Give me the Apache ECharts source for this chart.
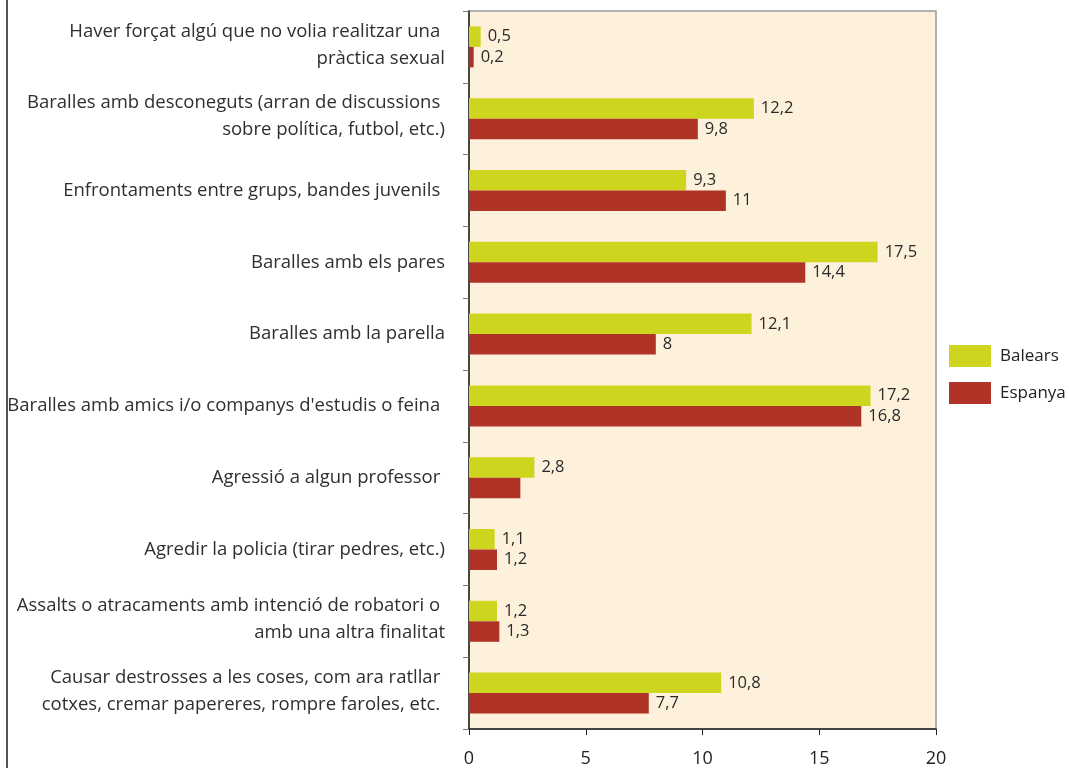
<!DOCTYPE html>
<html>
<head>
<meta charset="utf-8">
<script src="https://cdn.jsdelivr.net/npm/echarts@6/dist/echarts.min.js"></script>
<style>
  html, body { margin: 0; padding: 0; background: #fff; }
  #chart { width: 1069px; height: 768px; }
</style>
</head>
<body>
<div id="chart"></div>
<script>
// categories top to bottom
const categories = [
  'Haver forçat algú que no volia realitzar una \npràctica sexual',
  'Baralles amb desconeguts (arran de discussions \nsobre política, futbol, etc.)',
  'Enfrontaments entre grups, bandes juvenils ',
  'Baralles amb els pares',
  'Baralles amb la parella',
  "Baralles amb amics i/o companys d'estudis o feina ",
  'Agressió a algun professor ',
  'Agredir la policia (tirar pedres, etc.)',
  'Assalts o atracaments amb intenció de robatori o \namb una altra finalitat',
  'Causar destrosses a les coses, com ara ratllar \ncotxes, cremar papereres, rompre faroles, etc. '
]
const balears = [0.5, 12.2, 9.3, 17.5, 12.1, 17.2, 2.8, 1.1, 1.2, 10.8]
const espanya = [0.2, 9.8, 11, 14.4, 8, 16.8, 2.2, 1.2, 1.3, 7.7]
// the picture shows no label on this bar
const espanyaHiddenLabel = [6]
const xTicks = [0, 5, 10, 15, 20]

const FONT = 'Open Sans'
const fmt = (v) => String(v).replace('.', ',')

const chart = echarts.init(document.getElementById('chart'), null, { renderer: 'canvas' })

const labelStyle = {
  show: true,
  position: 'right',
  distance: 7,
  color: '#2a2a2a',
  fontFamily: FONT,
  fontSize: 16.5,
  formatter: (p) => fmt(p.value)
}

const catText = { fontFamily: FONT, fontSize: 18.5, color: '#2f2f2f', lineHeight: 31 }

chart.setOption({
  animation: false,
  textStyle: { fontFamily: FONT },
  grid: {
    left: 469, right: 133, top: 11, bottom: 36.5,
    show: true,
    backgroundColor: '#FDF1DC',
    borderColor: '#9a9a9a',
    borderWidth: 1.5
  },
  graphic: [
    // left frame
    { type: 'line', z: 10, shape: { x1: 7, y1: 0, x2: 7, y2: 768 }, style: { stroke: '#555', lineWidth: 2 } }
  ],
  legend: {
    orient: 'vertical',
    left: 944,
    top: 340,
    itemWidth: 42,
    itemHeight: 22,
    itemGap: 15,
    icon: 'rect',
    textStyle: { fontFamily: FONT, fontSize: 17, color: '#222', padding: [0, 0, 0, 4] },
    data: ['Balears', 'Espanya']
  },
  xAxis: {
    type: 'value',
    min: xTicks[0],
    max: xTicks[xTicks.length - 1],
    interval: 5,
    splitLine: { show: false },
    axisLine: { show: true, lineStyle: { color: '#222', width: 1.5 } },
    axisTick: { show: true, length: 6, lineStyle: { color: '#222' } },
    axisLabel: { fontFamily: FONT, fontSize: 18, color: '#222', margin: 21 }
  },
  yAxis: {
    type: 'category',
    inverse: true,
    data: categories,
    axisLine: { show: true, lineStyle: { color: '#222', width: 1.5 } },
    axisTick: { show: true, length: 6, lineStyle: { color: '#777' } },
    axisLabel: {
      ...catText,
      margin: 24,
      align: 'right',
      // two-line labels sit a little above the band centre in the picture
      formatter: (v) => {
        const lines = v.split('\n')
        if (lines.length === 1) return '{s|' + v + '}'
        return '{s|' + lines[0] + '}\n{b|' + lines[1] + '}'
      },
      rich: {
        s: { ...catText },
        b: { ...catText, padding: [0, 0, 8, 0] }
      }
    }
  },
  series: [
    {
      name: 'Balears',
      type: 'bar',
      data: balears,
      barWidth: 20.5,
      barGap: '0%',
      itemStyle: { color: '#CDD51E' },
      label: labelStyle
    },
    {
      name: 'Espanya',
      type: 'bar',
      data: espanya.map((v, i) => espanyaHiddenLabel.includes(i) ? { value: v, label: { show: false } } : v),
      barWidth: 20.5,
      itemStyle: { color: '#B03327' },
      label: labelStyle
    }
  ]
})
</script>
</body>
</html>
